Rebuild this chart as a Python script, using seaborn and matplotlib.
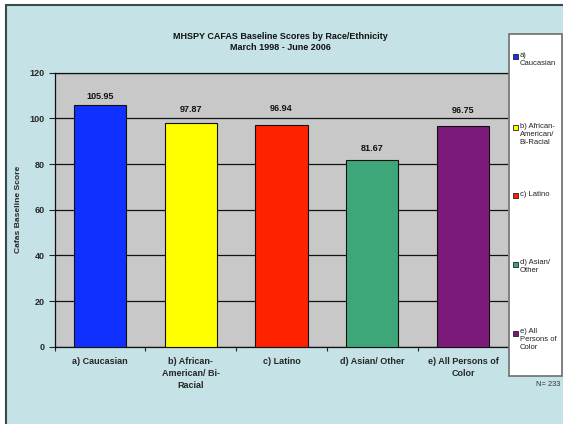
import matplotlib
matplotlib.use("Agg")
import matplotlib.pyplot as plt
from matplotlib.patches import Rectangle
import seaborn as sns
import pandas as pd

categories = ["a) Caucasian", "b) African-American/ Bi-Racial", "c) Latino",
              "d) Asian/ Other", "e) All Persons of Color"]
tick_labels = ["a) Caucasian", "b) African-\nAmerican/ Bi-\nRacial", "c) Latino",
               "d) Asian/ Other", "e) All Persons of\nColor"]
legend_labels = ["a)\nCaucasian", "b) African-\nAmerican/\nBi-Racial", "c) Latino",
                 "d) Asian/\nOther", "e) All\nPersons of\nColor"]
scores = [105.95, 97.87, 96.94, 81.67, 96.75]
colors = ["#1030FF", "#FFFF00", "#FF2200", "#3DA77A", "#7B1A79"]

sns.set_style("white")
plt.rcParams["font.family"] = ["Liberation Sans", "DejaVu Sans"]

W, H = 563, 424
fig = plt.figure(figsize=(W / 100, H / 100), dpi=100, facecolor="white")

# light blue chart panel with dark border
fig.patches.append(Rectangle((6 / W, -0.1), 1, 1.1 - 5 / H, transform=fig.transFigure,
                             facecolor="#C5E3E6", edgecolor="#3A4A4A", linewidth=1.5,
                             zorder=-10))

left, right, top, bottom = 54.5, 508.5, 72.7, 346.7
ax = fig.add_axes([left / W, 1 - bottom / H, (right - left) / W, (bottom - top) / H])
ax.set_zorder(1)
ax.set_facecolor("#C8C8C8")

df = pd.DataFrame({"group": categories, "score": scores})
sns.barplot(data=df, x="group", y="score", hue="group", palette=colors,
            order=categories, hue_order=categories, width=0.575, legend=False,
            edgecolor="#111111", linewidth=0.8, saturation=1, ax=ax, zorder=3)

# value labels; offsets keep each label clear of the gridlines
label_pads = [2.9, 6.8, 8.6, 5.0, 7.9]
for cont, pad in zip(ax.containers, label_pads):
    ax.bar_label(cont, fmt="%.2f", padding=pad, fontsize=6.5, fontweight="bold",
                 color="#111111")

ax.set_ylim(0, 120)
ax.set_xlim(-0.5, 4.5)
ax.set_yticks(range(0, 121, 20))
ax.yaxis.grid(True, color="#111111", linewidth=0.9, zorder=1)
ax.set_axisbelow(True)
ax.tick_params(axis="y", direction="out", length=4, width=0.8, color="#222222",
               labelsize=6.5, pad=3, left=True)
for lab in ax.get_yticklabels():
    lab.set_fontweight("bold")

ax.set_xticks(range(len(categories)))
ax.set_xticklabels(tick_labels, fontsize=6.5, fontweight="bold", linespacing=1.45,
                   va="top")
ax.set_xticks([i - 0.5 for i in range(len(categories) + 1)], minor=True)
ax.tick_params(axis="x", which="major", length=0, pad=7.5)
ax.tick_params(axis="x", which="minor", direction="out", length=3, width=0.8,
               color="#222222", bottom=True)

ax.set_xlabel("")
ax.set_ylabel("Cafas Baseline Score", fontsize=6.1, fontweight="bold")
ax.yaxis.set_label_coords(-(left - 21.7) / (right - left), 0.5)

for side in ["left", "bottom", "top"]:
    ax.spines[side].set_visible(True)
    ax.spines[side].set_color("#111111")
    ax.spines[side].set_linewidth(0.9)
ax.spines["right"].set_visible(False)

fig.text(280 / W, 1 - 42 / H, "MHSPY CAFAS Baseline Scores by Race/Ethnicity\nMarch 1998 - June 2006",
         ha="center", va="center", fontsize=6.5, fontweight="bold", linespacing=1.35,
         color="#111111")

# legend box
lx0, lx1, ly0, ly1 = 508.5, 562, 33.5, 375.5
fig.patches.append(Rectangle((lx0 / W, 1 - ly1 / H), (lx1 - lx0) / W, (ly1 - ly0) / H,
                             transform=fig.transFigure, facecolor="white",
                             edgecolor="#6E6E6E", linewidth=1.2, zorder=5))
entry_y = [56.7, 127.7, 195.5, 264.0, 333.0]
for y, lab, col in zip(entry_y, legend_labels, colors):
    fig.patches.append(Rectangle((513 / W, 1 - (y + 2.5) / H), 5 / W, 5 / H,
                                 transform=fig.transFigure, facecolor=col,
                                 edgecolor="#222222", linewidth=0.6, zorder=6))
    fig.text(519.5 / W, 1 - (y - 4.7) / H, lab, ha="left", va="top", fontsize=5.5,
             color="#222222", linespacing=1.2, zorder=7)

fig.text(560 / W, 1 - 385 / H, "N= 233", ha="right", va="center", fontsize=5.4,
         color="#333333")

fig.savefig("out.png", dpi=100, facecolor="white")
